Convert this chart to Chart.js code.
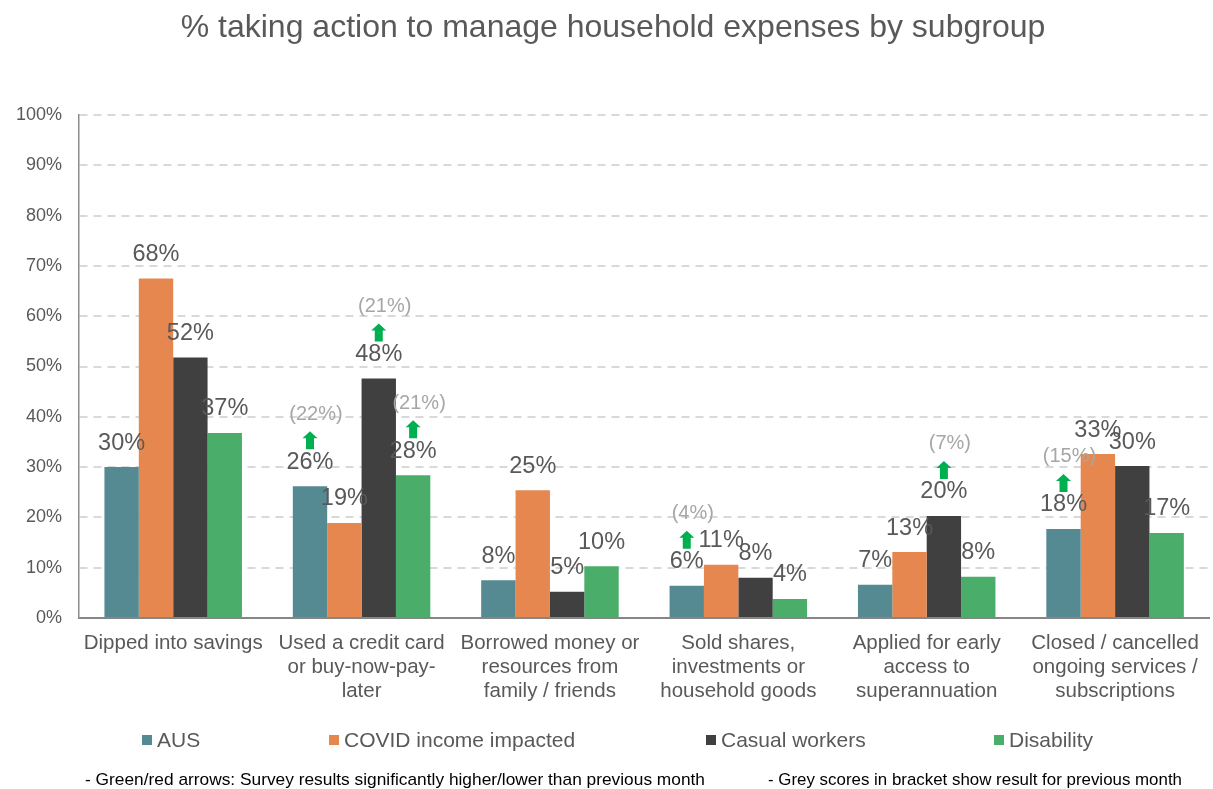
<!DOCTYPE html>
<html>
<head>
<meta charset="utf-8">
<script src="https://cdn.jsdelivr.net/npm/chart.js@4.4.1/dist/chart.umd.min.js"></script>
<style>
  html, body { margin: 0; padding: 0; background: #ffffff; }
  #wrap { width: 1213px; height: 789px; position: relative; }
</style>
</head>
<body>
<div id="wrap"><canvas id="c" width="1213" height="789"></canvas></div>
<script>
// ---------- DATA ----------
const chartTitle = "% taking action to manage household expenses by subgroup";
const categories = [
  ["Dipped into savings"],
  ["Used a credit card", "or buy-now-pay-", "later"],
  ["Borrowed money or", "resources from", "family / friends"],
  ["Sold shares,", "investments or", "household goods"],
  ["Applied for early", "access to", "superannuation"],
  ["Closed / cancelled", "ongoing services /", "subscriptions"]
];
const seriesNames = ["AUS", "COVID income impacted", "Casual workers", "Disability"];
const ausValues        = [30.0, 26.2,  7.5, 6.4,  6.6, 17.7];
const covidValues      = [67.5, 18.9, 25.4, 10.6, 13.1, 32.6];
const casualValues     = [51.8, 47.6,  5.2, 8.0, 20.3, 30.2];
const disabilityValues = [36.8, 28.4, 10.3, 3.8,  8.2, 16.9];
// previous month scores (grey, in brackets) shown where a significant change occurred
const ausPrev        = [null, 22, null, 4, null, 15];
const covidPrev      = [null, null, null, null, null, null];
const casualPrev     = [null, 21, null, null, 7, null];
const disabilityPrev = [null, 21, null, null, null, null];
// arrows: "up" = significantly higher than previous month
const ausArrow        = [null, "up", null, "up", null, "up"];
const covidArrow      = [null, null, null, null, null, null];
const casualArrow     = [null, "up", null, null, "up", null];
const disabilityArrow = [null, "up", null, null, null, null];
const yTicks = [0, 10, 20, 30, 40, 50, 60, 70, 80, 90, 100];
const footNotes = [
  "- Green/red arrows: Survey results significantly higher/lower than previous month",
  "- Grey scores in bracket show result for previous month"
];

// ---------- STYLE ----------
const FONT = "'Liberation Sans', Arial, Helvetica, sans-serif";
const colors = ["#558A92", "#E5874F", "#404041", "#4AAD6A"];
const prevSets = [ausPrev, covidPrev, casualPrev, disabilityPrev];
const arrowSets = [ausArrow, covidArrow, casualArrow, disabilityArrow];
const valueSets = [ausValues, covidValues, casualValues, disabilityValues];

const labelPlugin = {
  id: "labels",
  afterDatasetsDraw(chart) {
    const ctx = chart.ctx;
    ctx.save();
    chart.data.datasets.forEach((ds, i) => {
      const meta = chart.getDatasetMeta(i);
      meta.data.forEach((el, j) => {
        const v = ds.data[j];
        const cy = el.y - 24;
        ctx.font = "23.5px " + FONT;
        ctx.fillStyle = "#595959";
        ctx.textAlign = "center";
        ctx.textBaseline = "middle";
        ctx.fillText(Math.round(v) + "%", el.x, cy);
        const arrow = arrowSets[i][j];
        if (arrow) {
          const ay = cy - 22;
          ctx.fillStyle = arrow === "up" ? "#00B050" : "#FF0000";
          const dir = arrow === "up" ? -1 : 1;
          const tipY = ay + dir * 9, baseY = ay - dir * 9, neckY = ay + dir * 2;
          ctx.beginPath();
          ctx.moveTo(el.x, tipY);
          ctx.lineTo(el.x + 7.5, neckY);
          ctx.lineTo(el.x + 4, neckY);
          ctx.lineTo(el.x + 4, baseY);
          ctx.lineTo(el.x - 4, baseY);
          ctx.lineTo(el.x - 4, neckY);
          ctx.lineTo(el.x - 7.5, neckY);
          ctx.closePath();
          ctx.fill();
        }
        const p = prevSets[i][j];
        if (p !== null && p !== undefined) {
          ctx.font = "20px " + FONT;
          ctx.fillStyle = "#A6A6A6";
          ctx.fillText("(" + p + "%)", el.x + 6, cy - 48);
        }
      });
    });
    ctx.restore();
  }
};

const decorPlugin = {
  id: "decor",
  afterDraw(chart) {
    const ctx = chart.ctx;
    ctx.save();
    // title
    ctx.font = "32px " + FONT;
    ctx.fillStyle = "#595959";
    ctx.textAlign = "center";
    ctx.textBaseline = "middle";
    ctx.fillText(chartTitle, 613, 28);
    // legend
    const sq = [142, 329, 706, 994];
    ctx.font = "21px " + FONT;
    ctx.textAlign = "left";
    seriesNames.forEach((n, i) => {
      ctx.fillStyle = colors[i];
      ctx.fillRect(sq[i], 735, 10, 10);
      ctx.fillStyle = "#595959";
      ctx.fillText(n, sq[i] + 15, 741);
    });
    // footnotes
    const fx = [85, 768], fw = [620, 414];
    ctx.font = "17px " + FONT;
    ctx.fillStyle = "#000000";
    footNotes.forEach((t, i) => {
      const w = ctx.measureText(t).width;
      ctx.save();
      ctx.translate(fx[i], 780);
      ctx.scale(fw[i] / w, 1);
      ctx.fillText(t, 0, 0);
      ctx.restore();
    });
    ctx.restore();
  }
};

new Chart(document.getElementById("c"), {
  type: "bar",
  data: {
    labels: categories,
    datasets: seriesNames.map((n, i) => ({
      label: n,
      data: valueSets[i],
      backgroundColor: colors[i],
      borderWidth: 0,
      categoryPercentage: 0.73,
      barPercentage: 1.0
    }))
  },
  options: {
    responsive: false,
    animation: false,
    devicePixelRatio: 1,
    layout: { padding: { top: 115, right: 2, left: 0, bottom: 0 } },
    plugins: { legend: { display: false }, title: { display: false }, tooltip: { enabled: false } },
    scales: {
      x: {
        grid: { display: false, drawTicks: false },
        border: { display: true, color: "#868686", width: 2 },
        ticks: {
          color: "#595959",
          font: { family: FONT, size: 20.5, lineHeight: 1.15 },
          padding: 14,
          maxRotation: 0,
          autoSkip: false
        },
        afterFit(scale) { scale.height = 171; }
      },
      y: {
        min: 0,
        max: 100,
        afterBuildTicks(scale) { scale.ticks = yTicks.map(v => ({ value: v })); },
        grid: { color: "#D9D9D9", lineWidth: 2, drawTicks: false },
        border: { display: true, color: "#8C8C8C", width: 1.5, dash: [8, 6] },
        ticks: {
          color: "#595959",
          font: { family: FONT, size: 18 },
          padding: 17,
          callback: v => v + "%"
        },
        afterFit(scale) { scale.width = 79; }
      }
    }
  },
  plugins: [labelPlugin, decorPlugin]
});
</script>
</body>
</html>
